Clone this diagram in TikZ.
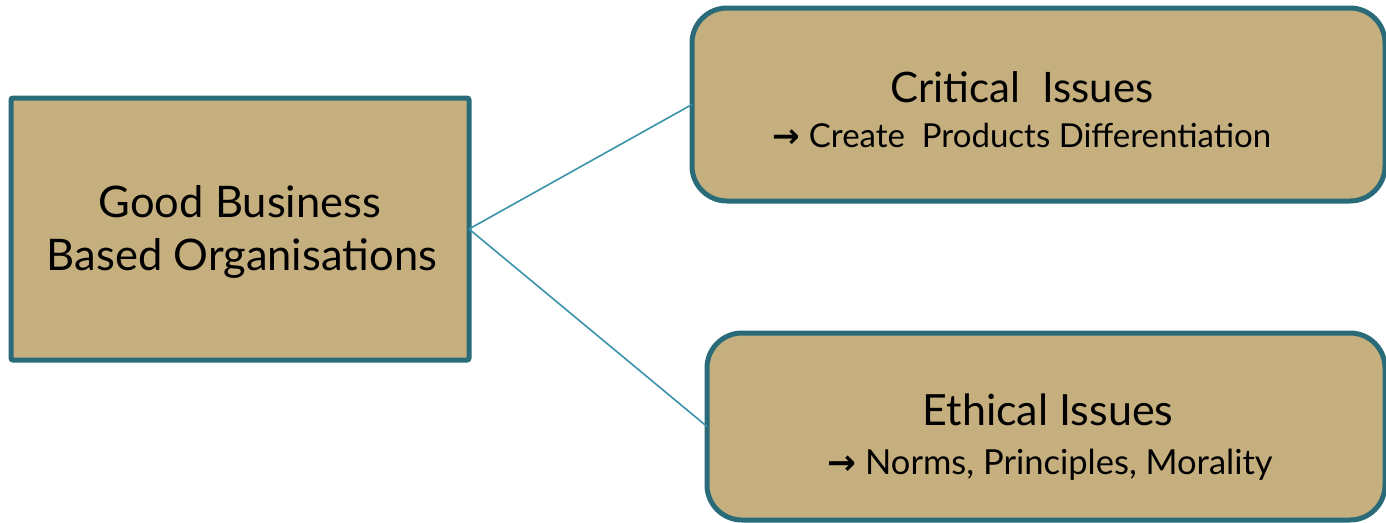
\documentclass[tikz,border=0pt]{standalone}
\usepackage{fontspec}
\setmainfont{Lato}
\newfontfamily\arrowfont{DejaVu Sans}
\definecolor{boxfill}{HTML}{C5AF7E}
\definecolor{boxline}{HTML}{2A6B7A}
\definecolor{linkcol}{HTML}{3A93AB}
\tikzset{
  panel/.style={draw=boxline, fill=boxfill, line width=5pt, inner sep=0pt, outer sep=0pt},
  link/.style={draw=linkcol, line width=1.6pt},
  lbl/.style={anchor=base, inner sep=0pt, text=black},
}
\begin{document}
\begin{tikzpicture}[x=1pt,y=-1pt]
\useasboundingbox (0,0) rectangle (1386,522);
\fill[white] (0,0) rectangle (1386,522);
% boxes
\node[panel, rounded corners=2pt, minimum width=458pt, minimum height=262pt] (L) at (240,229) {};
\node[panel, rounded corners=35pt, minimum width=693pt, minimum height=193pt] (T) at (1038.5,104.5) {};
\node[panel, rounded corners=35pt, minimum width=678pt, minimum height=187pt] (B) at (1046,426.5) {};
% connectors
\draw[link] (L.east) -- (T.west);
\draw[link] (L.east) -- (B.west);
% texts
\node[lbl, font=\fontsize{43.5}{48}\selectfont] (L1) at (240,217) {Good Business};
\node[lbl, font=\fontsize{43.5}{48}\selectfont] (L2) at (242,270) {Based Organisations};
\node[lbl, font=\fontsize{42}{46}\selectfont] (T1) at (1022,102) {Critical\ \ Issues};
\node[lbl, font=\fontsize{33}{37}\selectfont] (T2) at (1022,147) {{\arrowfont\bfseries →} Create\ \ Products Differentiation};
\node[lbl, font=\fontsize{43}{47}\selectfont] (B1) at (1048,425) {Ethical Issues};
\node[lbl, font=\fontsize{34.5}{38}\selectfont] (B2) at (1050,474) {{\arrowfont\bfseries →} Norms, Principles, Morality};
\end{tikzpicture}
\end{document}
